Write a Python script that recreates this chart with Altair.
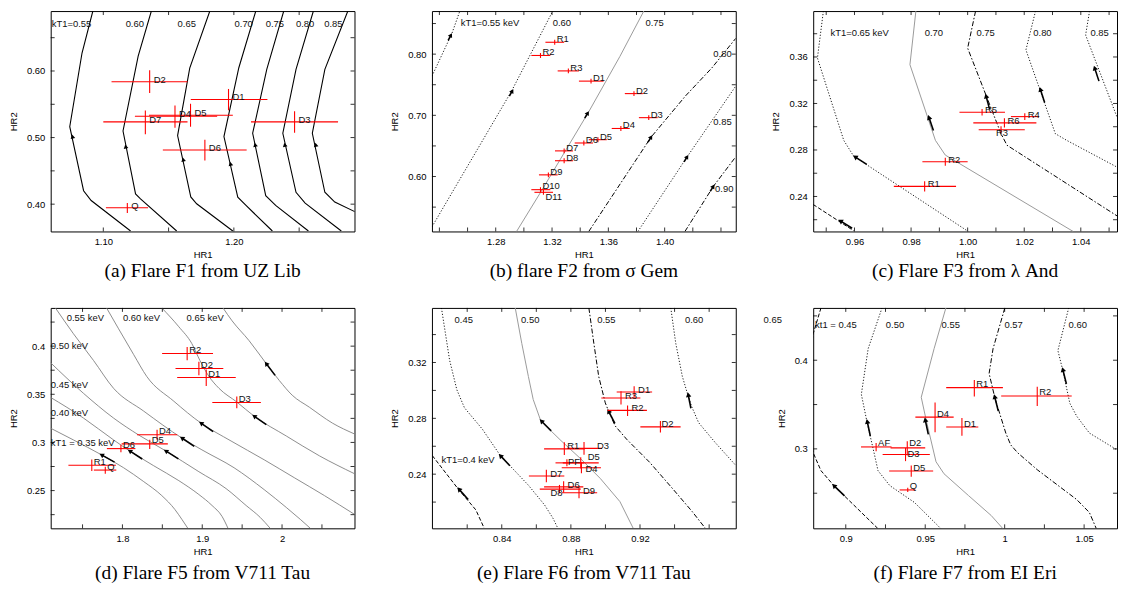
import math
import altair as alt
import pandas as pd

SANS = "Liberation Sans"
SERIF = "Liberation Serif"
PANEL_W = 306
PANEL_H = 222

# ================= (a) Flare F1 from UZ Lib =================
a_curves = ["0.55", "0.60", "0.65", "0.70", "0.75", "0.80", "0.85"]
a_cx = [
    [1.0920, 1.0837, 1.0743, 1.0849, 1.0907, 1.1209],
    [1.1368, 1.1267, 1.1151, 1.1247, 1.1285, 1.1562],
    [1.1816, 1.1662, 1.1569, 1.1670, 1.1715, 1.1992],
    [1.2168, 1.2038, 1.1924, 1.2030, 1.2093, 1.2295],
    [1.2382, 1.2252, 1.2144, 1.2244, 1.2320, 1.2571],
    [1.2609, 1.2476, 1.2375, 1.2476, 1.2546, 1.2823],
    [1.2873, 1.2697, 1.2601, 1.2697, 1.2773, 1.2931],
]
a_cy = [
    [0.6901, 0.6270, 0.5163, 0.4202, 0.4055, 0.3597],
    [0.6901, 0.6222, 0.5099, 0.4154, 0.4080, 0.3597],
    [0.6901, 0.6044, 0.5030, 0.4109, 0.4006, 0.3597],
    [0.6901, 0.6049, 0.5015, 0.4105, 0.3981, 0.3597],
    [0.6901, 0.6025, 0.5065, 0.4128, 0.3981, 0.3597],
    [0.6901, 0.6025, 0.5065, 0.4179, 0.4016, 0.3597],
    [0.6901, 0.6025, 0.5065, 0.4179, 0.4031, 0.3883],
]
a_arrow_x = [1.0764, 1.1171, 1.1612, 1.1974, 1.2163, 1.2390, 1.2627]
a_arrow_y = [0.5015, 0.4867, 0.4671, 0.4607, 0.4892, 0.4892, 0.4892]
a_kt_text = ["kT1=0.55", "0.60", "0.65", "0.70", "0.75", "0.80", "0.85"]
a_kt_x = [1.0605, 1.1171, 1.1569, 1.2005, 1.2244, 1.2476, 1.2692]
a_kt_y = [0.6705, 0.6705, 0.6705, 0.6705, 0.6705, 0.6705, 0.6705]
a_names = ["D2", "D1", "D5", "D4", "D7", "D3", "D6", "Q"]
a_x = [1.1355, 1.1959, 1.1668, 1.1549, 1.1322, 1.2465, 1.1778, 1.1184]
a_xlo = [1.1063, 1.1670, 1.1350, 1.1242, 1.1000, 1.2131, 1.1456, 1.1020]
a_xhi = [1.1645, 1.2257, 1.1992, 1.1872, 1.1645, 1.2798, 1.2098, 1.1343]
a_y = [0.5838, 0.5572, 0.5335, 0.5321, 0.5236, 0.5236, 0.4814, 0.3947]
a_ylo = [0.5671, 0.5409, 0.5163, 0.5148, 0.5050, 0.5074, 0.4656, 0.3869]
a_yhi = [0.6010, 0.5730, 0.5508, 0.5483, 0.5405, 0.5394, 0.4966, 0.4016]
a_xticks = [1.10, 1.15, 1.20, 1.25]
a_xlabels = [1.10, 1.20]
a_yticks = [0.40, 0.45, 0.50, 0.55, 0.60, 0.65]
a_ylabels = [0.40, 0.50, 0.60]

# ================= (b) flare F2 from sigma Gem =================
b_curves = ["0.55", "0.60", "0.75", "0.80", "0.85", "0.90"]
b_cx = [
    [1.2347, 1.2489, 1.2545],
    [1.2347, 1.2913, 1.3205],
    [1.2948, 1.3123, 1.3461, 1.3682, 1.3852],
    [1.3461, 1.3904, 1.4148, 1.4335, 1.4505],
    [1.3810, 1.4160, 1.4505],
    [1.4144, 1.4346, 1.4505],
]
b_cy = [
    [0.7640, 0.8339, 0.8704],
    [0.5177, 0.7398, 0.8704],
    [0.5102, 0.5758, 0.7059, 0.7962, 0.8704],
    [0.5102, 0.6645, 0.7317, 0.7774, 0.8258],
    [0.5102, 0.6323, 0.7478],
    [0.5102, 0.5839, 0.6323],
]
b_arrow_x = [1.2482, 1.2918, 1.3454, 1.3904, 1.4160, 1.4346]
b_arrow_y = [0.8312, 0.7398, 0.7038, 0.6645, 0.6323, 0.5839]
b_kt_text = ["kT1=0.55 keV", "0.60", "0.75", "0.80", "0.85", "0.90"]
b_kt_x = [1.2552, 1.3205, 1.3864, 1.4346, 1.4346, 1.4358]
b_kt_y = [0.8510, 0.8510, 0.8510, 0.8000, 0.6898, 0.5801]
b_names = ["R1", "R2", "R3", "D1", "D2", "D3", "D4", "D5", "D6", "D7", "D8", "D9", "D10", "D11"]
b_x = [1.3219, 1.3118, 1.3316, 1.3477, 1.3782, 1.3887, 1.3689, 1.3526, 1.3426, 1.3286, 1.3286, 1.3174, 1.3118, 1.3139]
b_xlo = [1.3153, 1.3053, 1.3240, 1.3391, 1.3717, 1.3817, 1.3624, 1.3461, 1.3361, 1.3221, 1.3221, 1.3107, 1.3053, 1.3075]
b_xhi = [1.3286, 1.3188, 1.3391, 1.3566, 1.3845, 1.3950, 1.3752, 1.3589, 1.3491, 1.3349, 1.3349, 1.3240, 1.3188, 1.3207]
b_y = [0.8194, 0.7978, 0.7726, 0.7559, 0.7355, 0.6962, 0.6785, 0.6602, 0.6548, 0.6419, 0.6258, 0.6027, 0.5785, 0.5742]
b_ylo = [0.8154, 0.7938, 0.7686, 0.7519, 0.7315, 0.6922, 0.6745, 0.6562, 0.6508, 0.6379, 0.6218, 0.5987, 0.5745, 0.5702]
b_yhi = [0.8234, 0.8018, 0.7766, 0.7599, 0.7395, 0.7002, 0.6825, 0.6642, 0.6588, 0.6459, 0.6298, 0.6067, 0.5825, 0.5782]
b_xticks = [1.24, 1.26, 1.28, 1.30, 1.32, 1.34, 1.36, 1.38, 1.40, 1.42, 1.44]
b_xlabels = [1.28, 1.32, 1.36, 1.40]
b_yticks = [0.55, 0.60, 0.65, 0.70, 0.75, 0.80, 0.85]
b_ylabels = [0.60, 0.70, 0.80]

# ================= (c) Flare F3 from lambda And =================
c_curves = ["0.60", "0.65", "0.70", "0.75", "0.80", "0.85"]
c_cx = [
    [0.9454, 0.9597],
    [0.9490, 0.9469, 0.9562, 0.9597, 1.0002],
    [0.9817, 0.9796, 0.9886, 0.9921, 1.0373],
    [1.0028, 1.0000, 1.0118, 1.0139, 1.0530],
    [1.0240, 1.0206, 1.0310, 1.0350, 1.0530],
    [1.0431, 1.0417, 1.0530],
]
c_cy = [
    [0.2331, 0.2105],
    [0.3995, 0.3591, 0.2883, 0.2747, 0.2099],
    [0.3995, 0.3534, 0.2883, 0.2756, 0.2099],
    [0.3995, 0.3676, 0.2940, 0.2841, 0.2230],
    [0.3995, 0.3661, 0.2940, 0.2883, 0.2650],
    [0.3995, 0.3789, 0.3070],
]
c_arrow_x = [0.9550, 0.9602, 0.9863, 1.0065, 1.0257, 1.0449]
c_arrow_y = [0.2190, 0.2741, 0.3081, 0.3265, 0.3322, 0.3506]
c_kt_text = ["kT1=0.65 keV", "0.70", "0.75", "0.80", "0.85"]
c_kt_x = [0.9515, 0.9848, 1.0031, 1.0232, 1.0434]
c_kt_y = [0.3803, 0.3803, 0.3803, 0.3803, 0.3803]
c_names = ["R5", "R4", "R6", "R3", "R2", "R1"]
c_x = [1.0051, 1.0202, 1.0130, 1.0118, 0.9921, 0.9848]
c_xlo = [0.9971, 1.0153, 1.0020, 1.0039, 0.9840, 0.9739]
c_xhi = [1.0132, 1.0252, 1.0243, 1.0202, 1.0000, 0.9959]
c_y = [0.3124, 0.3087, 0.3033, 0.2974, 0.2699, 0.2487]
c_ylo = [0.3096, 0.3057, 0.2993, 0.2944, 0.2664, 0.2442]
c_yhi = [0.3152, 0.3117, 0.3073, 0.3004, 0.2734, 0.2532]
c_xticks = [0.95, 0.96, 0.97, 0.98, 0.99, 1.00, 1.01, 1.02, 1.03, 1.04, 1.05]
c_xlabels = [0.96, 0.98, 1.00, 1.02, 1.04]
c_yticks = [0.22, 0.24, 0.26, 0.28, 0.30, 0.32, 0.34, 0.36, 0.38]
c_ylabels = [0.24, 0.28, 0.32, 0.36]

# ================= (d) Flare F5 from V711 Tau =================
d_curves = ["0.35", "0.40", "0.45", "0.50", "0.55", "0.60", "0.65"]
d_cx = [
    [1.7097, 1.7386, 1.7738, 1.8015, 1.8267, 1.8493, 1.8657, 1.8745, 1.8820],
    [1.7097, 1.7512, 1.7889, 1.8091, 1.8392, 1.8707, 1.8958, 1.9123, 1.9248, 1.9323],
    [1.7097, 1.7512, 1.7889, 1.8204, 1.8543, 1.8958, 1.9298, 1.9550, 1.9726, 1.9852],
    [1.7160, 1.7386, 1.7638, 1.7889, 1.8267, 1.8745, 1.8996, 1.9399, 1.9776, 2.0053, 2.0229, 2.0355],
    [1.7801, 1.7952, 1.8141, 1.8304, 1.8644, 1.8984, 1.9361, 1.9776, 2.0153, 2.0531, 2.0908],
    [1.8493, 1.8707, 1.8870, 1.8971, 1.9084, 1.9210, 1.9436, 1.9650, 2.0053, 2.0468, 2.0908],
    [1.9260, 1.9374, 1.9587, 1.9801, 1.9965, 2.0128, 2.0342, 2.0631, 2.0908],
]
d_cy = [
    [0.3149, 0.3026, 0.2871, 0.2737, 0.2593, 0.2448, 0.2304, 0.2201, 0.2108],
    [0.3469, 0.3253, 0.3026, 0.2912, 0.2758, 0.2603, 0.2459, 0.2345, 0.2232, 0.2108],
    [0.3830, 0.3510, 0.3253, 0.3077, 0.2912, 0.2696, 0.2521, 0.2345, 0.2222, 0.2108],
    [0.4397, 0.4129, 0.3851, 0.3562, 0.3325, 0.3046, 0.2923, 0.2737, 0.2510, 0.2325, 0.2201, 0.2108],
    [0.4397, 0.4180, 0.3912, 0.3686, 0.3428, 0.3201, 0.3015, 0.2820, 0.2634, 0.2448, 0.2253],
    [0.4397, 0.4201, 0.4026, 0.3851, 0.3686, 0.3562, 0.3418, 0.3273, 0.3067, 0.2861, 0.2675],
    [0.4397, 0.4263, 0.4057, 0.3820, 0.3644, 0.3490, 0.3366, 0.3201, 0.3088],
]
d_arrow_x = [1.7738, 1.8091, 1.8543, 1.8745, 1.8984, 1.9650, 1.9801]
d_arrow_y = [0.2871, 0.2912, 0.2912, 0.3046, 0.3201, 0.3273, 0.3820]
d_kt_text = ["0.55 keV", "0.60 keV", "0.65 keV", "0.50 keV", "0.45 keV", "0.40 keV", "kT1 = 0.35 keV"]
d_kt_x = [1.7302, 1.8006, 1.8804, 1.7103, 1.7103, 1.7103, 1.7103]
d_kt_y = [0.4294, 0.4294, 0.4294, 0.3998, 0.3596, 0.3304, 0.2995]
d_names = ["R2", "D2", "D1", "D3", "D4", "D5", "D6", "R1", "Q"]
d_x = [1.8811, 1.8958, 1.9050, 1.9433, 1.8434, 1.8342, 1.7981, 1.7616, 1.7785]
d_xlo = [1.8497, 1.8665, 1.8686, 1.9126, 1.8182, 1.7990, 1.7805, 1.7323, 1.7642]
d_xhi = [1.9135, 1.9264, 1.9420, 1.9735, 1.8686, 1.8569, 1.8162, 1.7918, 1.7923]
d_y = [0.3923, 0.3768, 0.3675, 0.3414, 0.3080, 0.2985, 0.2936, 0.2763, 0.2713]
d_ylo = [0.3854, 0.3699, 0.3586, 0.3356, 0.3029, 0.2933, 0.2899, 0.2703, 0.2675]
d_yhi = [0.3992, 0.3837, 0.3758, 0.3476, 0.3132, 0.3029, 0.2977, 0.2823, 0.2747]
d_xticks = [1.75, 1.80, 1.85, 1.90, 1.95, 2.00, 2.05]
d_xlabels = [1.8, 1.9, 2.0]
d_yticks = [0.225, 0.25, 0.275, 0.30, 0.325, 0.35, 0.375, 0.40, 0.425]
d_ylabels = [0.25, 0.30, 0.35, 0.40]

# ================= (e) Flare F6 from V711 Tau =================
e_curves = ["0.40", "0.45", "0.50", "0.55", "0.60"]
e_cx = [
    [0.7998, 0.8146, 0.8250, 0.8298],
    [0.8051, 0.8098, 0.8140, 0.8184, 0.8288, 0.8392, 0.8554, 0.8648, 0.8696, 0.8724],
    [0.8478, 0.8516, 0.8554, 0.8582, 0.8626, 0.8743, 0.8857, 0.8971, 0.9084, 0.9160],
    [0.8904, 0.8933, 0.8961, 0.8999, 0.9018, 0.9056, 0.9122, 0.9255, 0.9388, 0.9502, 0.9577],
    [0.9378, 0.9407, 0.9445, 0.9479, 0.9498, 0.9539, 0.9634, 0.9754],
]
e_cy = [
    [0.2533, 0.2297, 0.2144, 0.2014],
    [0.3591, 0.3218, 0.3005, 0.2876, 0.2722, 0.2533, 0.2321, 0.2179, 0.2085, 0.2014],
    [0.3591, 0.3336, 0.3100, 0.2935, 0.2781, 0.2640, 0.2510, 0.2368, 0.2203, 0.2014],
    [0.3591, 0.3336, 0.3100, 0.2911, 0.2852, 0.2746, 0.2651, 0.2486, 0.2297, 0.2132, 0.2014],
    [0.3591, 0.3336, 0.3100, 0.2958, 0.2887, 0.2769, 0.2628, 0.2463],
]
e_arrow_x = [0.8152, 0.8392, 0.8629, 0.9018, 0.9479]
e_arrow_y = [0.2293, 0.2533, 0.2781, 0.2852, 0.2970]
e_kt_text = ["0.45", "0.50", "0.55", "0.60", "kT1=0.4 keV"]
e_kt_x = [0.8127, 0.8512, 0.8952, 0.9460, 0.8051]
e_kt_y = [0.3501, 0.3501, 0.3501, 0.3501, 0.2498]
e_names = ["D1", "R3", "R2", "D2", "R1", "D3", "PF", "D5", "D4", "D7", "D6", "D8", "D9"]
e_x = [0.9166, 0.9090, 0.9128, 0.9318, 0.8762, 0.8876, 0.8777, 0.8857, 0.8861, 0.8658, 0.8758, 0.8734, 0.8847]
e_xlo = [0.9065, 0.8976, 0.9012, 0.9202, 0.8645, 0.8777, 0.8711, 0.8753, 0.8747, 0.8557, 0.8645, 0.8620, 0.8747]
e_xhi = [0.9270, 0.9202, 0.9240, 0.9435, 0.8880, 0.8980, 0.8876, 0.8961, 0.8974, 0.8762, 0.8872, 0.8857, 0.8952]
e_y = [0.2989, 0.2946, 0.2857, 0.2739, 0.2581, 0.2585, 0.2481, 0.2481, 0.2446, 0.2387, 0.2309, 0.2293, 0.2267]
e_ylo = [0.2949, 0.2899, 0.2817, 0.2699, 0.2538, 0.2540, 0.2456, 0.2441, 0.2406, 0.2342, 0.2269, 0.2263, 0.2227]
e_yhi = [0.3029, 0.2994, 0.2892, 0.2781, 0.2628, 0.2630, 0.2506, 0.2521, 0.2486, 0.2432, 0.2349, 0.2323, 0.2307]
e_xticks = [0.82, 0.84, 0.86, 0.88, 0.90, 0.92, 0.94, 0.96]
e_xlabels = [0.84, 0.88, 0.92]
e_yticks = [0.22, 0.24, 0.26, 0.28, 0.30, 0.32, 0.34]
e_ylabels = [0.24, 0.28, 0.32]

# ================= (f) Flare F7 from EI Eri =================
f_curves = ["0.45", "0.50", "0.55", "0.57", "0.60"]
f_cx = [
    [0.8844, 0.8795, 0.8733, 0.8795, 0.8844, 0.8925, 0.9203],
    [0.9228, 0.9141, 0.9098, 0.9135, 0.9178, 0.9203, 0.9277, 0.9432, 0.9599],
    [0.9630, 0.9556, 0.9475, 0.9506, 0.9568, 0.9618, 0.9772, 0.9915, 0.9989],
    [1.0001, 0.9927, 0.9902, 0.9939, 1.0007, 1.0038, 1.0082, 1.0205, 1.0453, 1.0533, 1.0577],
    [1.0403, 1.0335, 1.0366, 1.0410, 1.0453, 1.0533, 1.0707],
]
f_cy = [
    [0.4590, 0.4299, 0.3571, 0.2956, 0.2754, 0.2586, 0.2100],
    [0.4590, 0.4131, 0.3616, 0.3291, 0.2956, 0.2754, 0.2586, 0.2396, 0.2100],
    [0.4590, 0.4131, 0.3582, 0.3325, 0.2855, 0.2720, 0.2474, 0.2249, 0.2100],
    [0.4590, 0.4131, 0.3851, 0.3571, 0.3179, 0.3045, 0.2956, 0.2765, 0.2429, 0.2283, 0.2100],
    [0.4590, 0.4109, 0.3885, 0.3515, 0.3370, 0.3179, 0.2989],
]
f_arrow_x = [0.8925, 0.9135, 0.9500, 0.9937, 1.0366]
f_arrow_y = [0.2586, 0.3310, 0.3328, 0.3590, 0.3896]
f_kt_text = ["kt1 = 0.45", "0.50", "0.55", "0.57", "0.60", "0.65"]
f_kt_x = [0.8807, 0.9252, 0.9603, 0.9999, 1.0402, 0.8483]
f_kt_y = [0.4392, 0.4392, 0.4392, 0.4392, 0.4392, 0.4456]
f_names = ["R1", "R2", "D4", "D1", "AF", "D2", "D3", "D5", "Q"]
f_x = [0.9809, 1.0205, 0.9562, 0.9731, 0.9191, 0.9387, 0.9376, 0.9412, 0.9390]
f_xlo = [0.9632, 0.9978, 0.9438, 0.9632, 0.9096, 0.9282, 0.9232, 0.9273, 0.9339]
f_xhi = [0.9989, 1.0422, 0.9679, 0.9834, 0.9288, 0.9500, 0.9529, 0.9550, 0.9438]
f_y = [0.3691, 0.3597, 0.3358, 0.3246, 0.3022, 0.3011, 0.2936, 0.2750, 0.2537]
f_ylo = [0.3590, 0.3485, 0.3187, 0.3149, 0.2974, 0.2925, 0.2862, 0.2687, 0.2515]
f_yhi = [0.3776, 0.3702, 0.3523, 0.3347, 0.3067, 0.3086, 0.3011, 0.2813, 0.2563]
f_xticks = [0.90, 0.925, 0.95, 0.975, 1.00, 1.025, 1.05]
f_xlabels = [0.90, 0.95, 1.00, 1.05]
f_yticks = [0.25, 0.30, 0.35, 0.40, 0.45]
f_ylabels = [0.30, 0.40]

# ================= styles =================
STYLES = {
    "solid": {"color": "black", "strokeWidth": 1.1},
    "grey": {"color": "#9a9a9a", "strokeWidth": 1.0},
    "dot": {"color": "black", "strokeWidth": 0.9, "strokeDash": [1.2, 1.8]},
    "dashdot": {"color": "black", "strokeWidth": 1.0, "strokeDash": [5, 2, 1.5, 2]},
    "dash": {"color": "black", "strokeWidth": 1.0, "strokeDash": [4, 2]},
    "thin": {"color": "#808080", "strokeWidth": 0.9},
}

PANELS = [
    dict(caption="(a) Flare F1 from UZ Lib", xdom=[1.0597, 1.2924], ydom=[0.359, 0.690], fmt=".2f",
         curves=a_curves, cx=a_cx, cy=a_cy,
         styles={k: "solid" for k in a_curves}, interp="linear",
         arx=a_arrow_x, ary=a_arrow_y, arang=[348, 348, 348, 348, 348, 348, 348], arsize=22, arlen=0,
         kt=(a_kt_text, a_kt_x, a_kt_y),
         pts=(a_names, a_x, a_xlo, a_xhi, a_y, a_ylo, a_yhi), off=(4, -2), special={},
         xticks=a_xticks, xlab=a_xlabels, yticks=a_yticks, ylab=a_ylabels, capoff=3),
    dict(caption="(b) flare F2 from σ Gem", xdom=[1.2347, 1.4505], ydom=[0.5102, 0.8704], fmt=".2f",
         curves=b_curves, cx=b_cx, cy=b_cy,
         styles={"0.55": "dot", "0.60": "dot", "0.75": "grey", "0.80": "dashdot", "0.85": "dot", "0.90": "dashdot"},
         interp="linear",
         arx=b_arrow_x, ary=b_arrow_y, arang=[28, 30, 31, 32, 32, 32], arsize=24, arlen=6,
         kt=(b_kt_text, b_kt_x, b_kt_y),
         pts=(b_names, b_x, b_xlo, b_xhi, b_y, b_ylo, b_yhi), off=(2, -3), special={"D11": (2, 5), "D10": (2, -4)},
         xticks=b_xticks, xlab=b_xlabels, yticks=b_yticks, ylab=b_ylabels, capoff=3),
    dict(caption="(c) Flare F3 from λ And", xdom=[0.9454, 1.0528], ydom=[0.2099, 0.3995], fmt=".2f",
         curves=c_curves, cx=c_cx, cy=c_cy,
         styles={"0.60": "dash", "0.65": "dot", "0.70": "grey", "0.75": "dashdot", "0.80": "dot", "0.85": "dot"},
         interp="linear",
         arx=c_arrow_x, ary=c_arrow_y, arang=[302, 303, 341, 345, 342, 342], arsize=30, arlen=14,
         kt=(c_kt_text, c_kt_x, c_kt_y),
         pts=(c_names, c_x, c_xlo, c_xhi, c_y, c_ylo, c_yhi), off=(3, -2), special={"R3": (-5, 3)},
         xticks=c_xticks, xlab=c_xlabels, yticks=c_yticks, ylab=c_ylabels, capoff=3),
    dict(caption="(d) Flare F5 from V711 Tau", xdom=[1.7101, 2.0908], ydom=[0.2108, 0.4397], fmt="~g",
         curves=d_curves, cx=d_cx, cy=d_cy,
         styles={k: "thin" for k in d_curves}, interp="monotone",
         arx=d_arrow_x, ary=d_arrow_y, arang=[299, 303, 302, 304, 305, 305, 323], arsize=28, arlen=15,
         kt=(d_kt_text, d_kt_x, d_kt_y),
         pts=(d_names, d_x, d_xlo, d_xhi, d_y, d_ylo, d_yhi), off=(2, -3.5), special={},
         xticks=d_xticks, xlab=d_xlabels, yticks=d_yticks, ylab=d_ylabels, capoff=8),
    dict(caption="(e) Flare F6 from V711 Tau", xdom=[0.7996, 0.9754], ydom=[0.2012, 0.3591], fmt=".2f",
         curves=e_curves, cx=e_cx, cy=e_cy,
         styles={"0.40": "dash", "0.45": "dot", "0.50": "grey", "0.55": "dashdot", "0.60": "dot"},
         interp="linear",
         arx=e_arrow_x, ary=e_arrow_y, arang=[318, 317, 315, 333, 349], arsize=30, arlen=14,
         kt=(e_kt_text, e_kt_x, e_kt_y),
         pts=(e_names, e_x, e_xlo, e_xhi, e_y, e_ylo, e_yhi), off=(4, -2),
         special={"D3": (13, -2.5), "D8": (-9, 4), "D2": (1, -2.5), "D5": (7, -5.5), "R1": (3, -3),
                  "PF": (1, -1), "D4": (4, 1)},
         xticks=e_xticks, xlab=e_xlabels, yticks=e_yticks, ylab=e_ylabels, capoff=8),
    dict(caption="(f) Flare F7 from EI Eri", xdom=[0.8795, 1.0707], ydom=[0.2104, 0.4590], fmt="~g",
         curves=f_curves, cx=f_cx, cy=f_cy,
         styles={"0.45": "dash", "0.50": "dot", "0.55": "grey", "0.57": "dashdot", "0.60": "dot"},
         interp="linear",
         arx=f_arrow_x, ary=f_arrow_y, arang=[314, 348, 348, 346, 346], arsize=30, arlen=15,
         kt=(f_kt_text, f_kt_x, f_kt_y),
         pts=(f_names, f_x, f_xlo, f_xhi, f_y, f_ylo, f_yhi), off=(2, -3.5),
         special={"D3": (2, -1), "D2": (2, -5)},
         xticks=f_xticks, xlab=f_xlabels, yticks=f_yticks, ylab=f_ylabels, capoff=8),
]


def make_panel(P):
    W, H = PANEL_W, PANEL_H
    xs = alt.Scale(domain=P["xdom"], nice=False, zero=False)
    ys = alt.Scale(domain=P["ydom"], nice=False, zero=False)
    xax = alt.Axis(values=P["xlab"], format=P["fmt"], title="HR1", labelPadding=5)
    yax = alt.Axis(values=P["ylab"], format=P["fmt"], title="HR2", labelPadding=6)

    def X(f):
        return alt.X(f"{f}:Q", scale=xs, axis=xax)

    def Y(f):
        return alt.Y(f"{f}:Q", scale=ys, axis=yax)

    layers = []
    # model curves
    for name, cx, cy in zip(P["curves"], P["cx"], P["cy"]):
        st = STYLES[P["styles"][name]]
        df = pd.DataFrame({"x": cx, "y": cy, "i": list(range(len(cx)))})
        layers.append(
            alt.Chart(df).mark_line(clip=True, interpolate=P["interp"], **st)
            .encode(x=X("x"), y=Y("y"), order=alt.Order("i:Q"))
        )
    # arrows (shaft + head)
    L = P["arlen"]
    for axv, ayv, ang in zip(P["arx"], P["ary"], P["arang"]):
        df = pd.DataFrame({"x": [axv], "y": [ayv]})
        th = math.radians(ang)
        if L > 0:
            layers.append(
                alt.Chart(df).mark_rule(color="black", strokeWidth=1.6,
                                        x2Offset=-math.sin(th) * L, y2Offset=math.cos(th) * L)
                .encode(x=X("x"), y=Y("y"), x2=alt.X2("x"), y2=alt.Y2("y"))
            )
        layers.append(
            alt.Chart(df).mark_point(shape="triangle-up", filled=True, size=P["arsize"], color="black",
                                     opacity=1, angle=ang, strokeWidth=0)
            .encode(x=X("x"), y=Y("y"))
        )
    # data points with error bars
    names, px, pxlo, pxhi, py, pylo, pyhi = P["pts"]
    pts = pd.DataFrame({"name": names, "x": px, "xlo": pxlo, "xhi": pxhi,
                        "y": py, "ylo": pylo, "yhi": pyhi})
    layers.append(alt.Chart(pts).mark_rule(color="#ff0000", strokeWidth=1.1)
                  .encode(x=X("xlo"), x2=alt.X2("xhi"), y=Y("y")))
    layers.append(alt.Chart(pts).mark_rule(color="#ff0000", strokeWidth=1.1)
                  .encode(x=X("x"), y=Y("ylo"), y2=alt.Y2("yhi")))
    # point labels
    groups = {}
    for n in names:
        groups.setdefault(P["special"].get(n, P["off"]), []).append(n)
    for (ddx, ddy), members in groups.items():
        sub = pts[pts["name"].isin(members)]
        layers.append(
            alt.Chart(sub).mark_text(align="left", baseline="middle", dx=ddx, dy=ddy,
                                     font=SANS, fontSize=9.5, color="#111111")
            .encode(x=X("x"), y=Y("y"), text="name:N")
        )
    # curve labels
    kt_t, kt_x, kt_y = P["kt"]
    kdf = pd.DataFrame({"t": kt_t, "x": kt_x, "y": kt_y})
    layers.append(
        alt.Chart(kdf).mark_text(align="left", baseline="middle", font=SANS, fontSize=9.5, color="#111111")
        .encode(x=X("x"), y=Y("y"), text="t:N")
    )
    # inward ticks on all four sides
    xt = pd.DataFrame({"t": P["xticks"]})
    yt = pd.DataFrame({"t": P["yticks"]})
    tick = dict(color="black", strokeWidth=0.8)
    layers.append(alt.Chart(xt).mark_rule(**tick).encode(x=X("t"), y=alt.value(H), y2=alt.value(H - 4)))
    layers.append(alt.Chart(xt).mark_rule(**tick).encode(x=X("t"), y=alt.value(0), y2=alt.value(4)))
    layers.append(alt.Chart(yt).mark_rule(**tick).encode(y=Y("t"), x=alt.value(0), x2=alt.value(4)))
    layers.append(alt.Chart(yt).mark_rule(**tick).encode(y=Y("t"), x=alt.value(W), x2=alt.value(W - 4)))

    return alt.layer(*layers).properties(
        width=W, height=H,
        title=alt.TitleParams(text=P["caption"], orient="bottom", anchor="middle", frame="group",
                              font=SERIF, fontSize=19.5, fontWeight="normal", color="black",
                              offset=P["capoff"]),
    )


panels = [make_panel(P) for P in PANELS]

chart = (
    alt.concat(*panels, columns=3, spacing={"row": 77, "column": 78}, bounds="flush")
    .properties(padding=0)
    .configure_view(stroke="black", strokeWidth=1)
    .configure_axis(grid=False, ticks=False, domain=False,
                    labelFont=SANS, labelFontSize=9.5, labelColor="black",
                    titleFont=SANS, titleFontSize=9.5, titleFontWeight="normal", titleColor="black")
    .configure_axisX(titlePadding=4)
    .configure_axisY(titlePadding=8)
)

chart.save("out.html", embed_options={"renderer": "svg", "actions": False})
